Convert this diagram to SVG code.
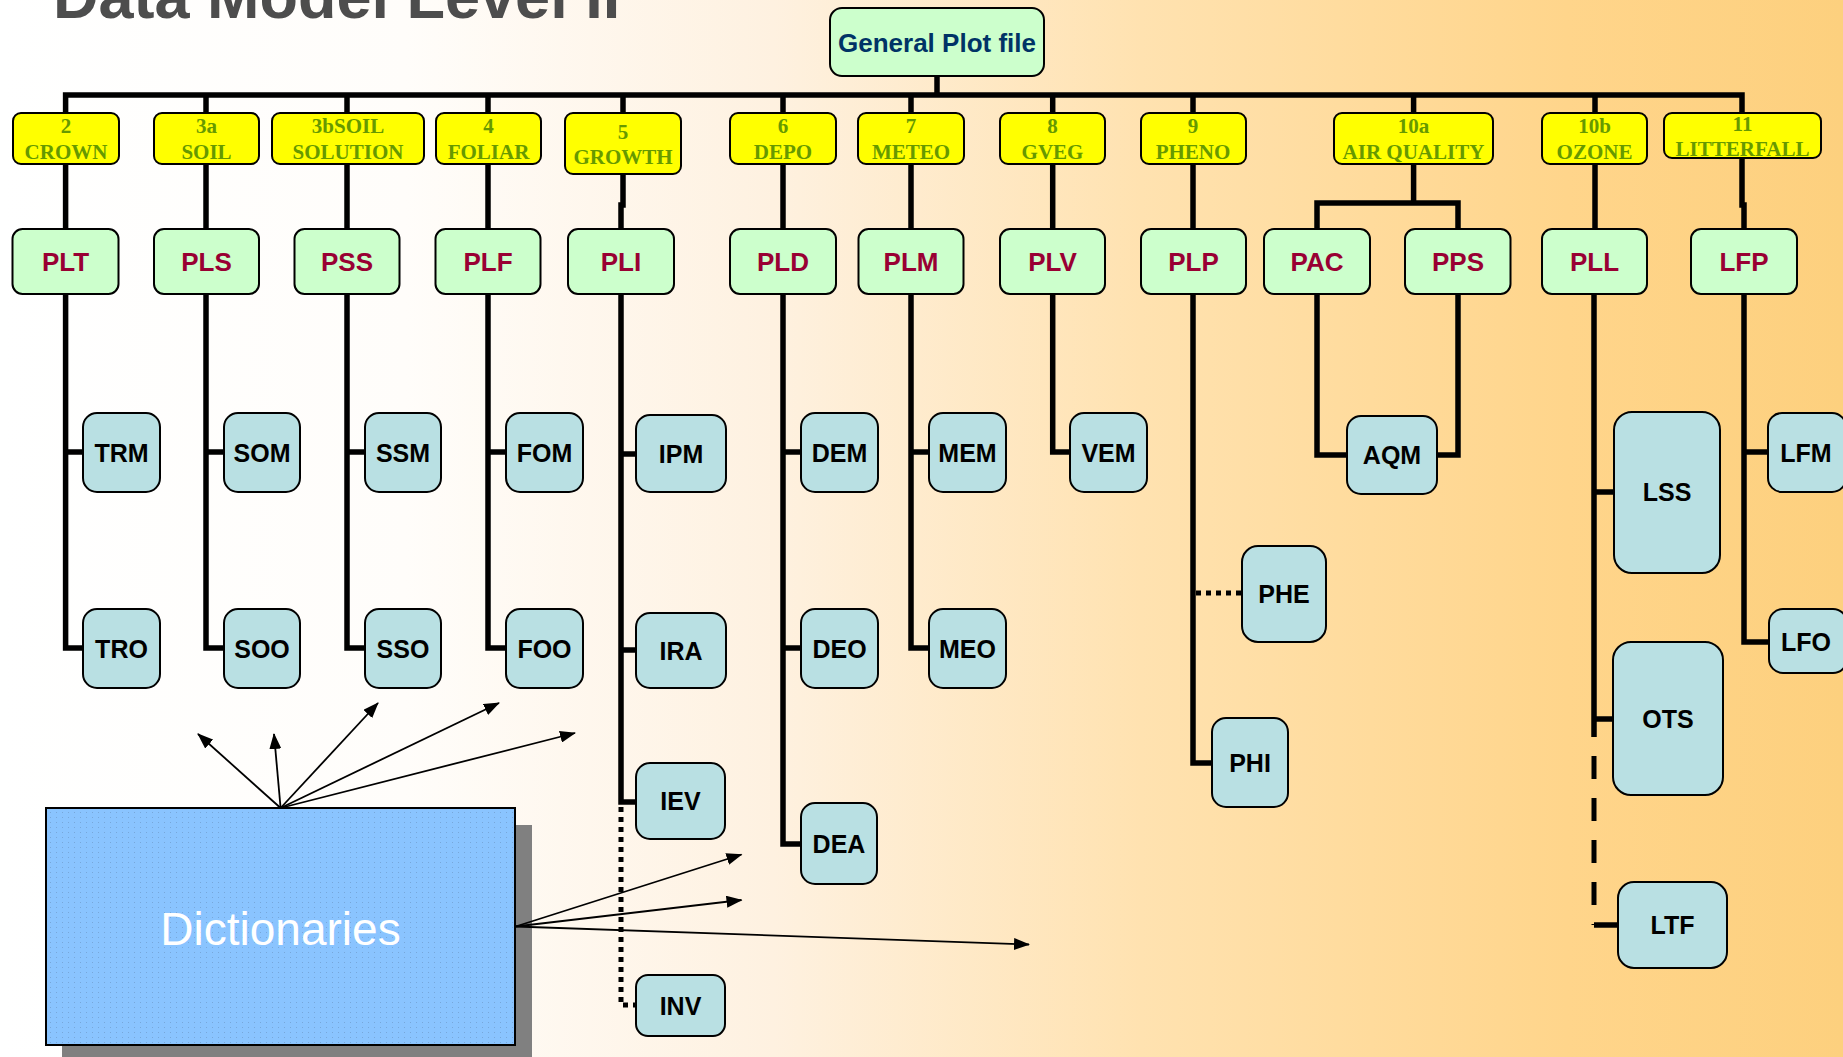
<svg xmlns="http://www.w3.org/2000/svg" width="1843" height="1057" viewBox="0 0 1843 1057">
<defs>
<linearGradient id="bg" x1="0" y1="0" x2="1" y2="0">
<stop offset="0" stop-color="#FFFFFF"/>
<stop offset="0.22" stop-color="#FFFDFA"/>
<stop offset="0.42" stop-color="#FEF1E0"/>
<stop offset="0.62" stop-color="#FFE2B0"/>
<stop offset="0.85" stop-color="#FFD58B"/>
<stop offset="1" stop-color="#FDD07E"/>
</linearGradient>
<pattern id="dots" width="6" height="5" patternUnits="userSpaceOnUse">
<rect x="2" y="2" width="1" height="1" fill="#6F9CCB" opacity="0.7"/>
</pattern>
<marker id="ah" markerWidth="16" markerHeight="12" refX="15" refY="6" orient="auto" markerUnits="userSpaceOnUse">
<path d="M0,0 L16,6 L0,12 Z" fill="#000"/>
</marker>
<style>
.y rect{fill:#FFFF00;stroke:#000;stroke-width:2}
.y text{font-family:"Liberation Serif","Times New Roman",serif;font-weight:bold;font-size:21px;fill:#669900;text-anchor:middle}
.g rect{fill:#CCFFCC;stroke:#000;stroke-width:2}
.g text{font-family:"Liberation Sans",Arial,sans-serif;font-weight:bold;font-size:26px;fill:#990033;text-anchor:middle}
.b rect{fill:#B9E0E3;stroke:#000;stroke-width:2}
.b text{font-family:"Liberation Sans",Arial,sans-serif;font-weight:bold;font-size:25px;fill:#000;text-anchor:middle}
.ln{stroke:#000;stroke-width:5.5;fill:none}
.dot{stroke:#000;stroke-width:5;fill:none;stroke-dasharray:5 5}
.dash{stroke:#000;stroke-width:5;fill:none;stroke-dasharray:23 19}
.ar{stroke:#000;stroke-width:1.8;fill:none;marker-end:url(#ah)}
</style>
</defs>
<rect x="0" y="0" width="1843" height="1057" fill="url(#bg)"/>
<text x="53" y="18" font-family="Liberation Sans, Arial, sans-serif" font-weight="bold" font-size="63" fill="#4D4D4D">Data Model Level II</text>

<g id="dictionaries">
<rect x="62" y="825" width="470" height="240" fill="#808080"/>
<rect x="46" y="808" width="469" height="237" fill="#8AC4FF" stroke="#000" stroke-width="2"/>
<rect x="47" y="809" width="467" height="235" fill="url(#dots)"/>
<text x="280.5" y="945" font-family="Liberation Sans, Arial, sans-serif" font-size="46" fill="#FFFFFF" text-anchor="middle">Dictionaries</text>
</g>

<g id="connectors">
<line class="ln" x1="937" y1="75" x2="937" y2="95"/>
<path class="ln" d="M65.6,113 V95 H1742 V113" stroke-width="6"/>
<line class="ln" x1="206" y1="95" x2="206" y2="113"/>
<line class="ln" x1="347" y1="95" x2="347" y2="113"/>
<line class="ln" x1="488" y1="95" x2="488" y2="113"/>
<line class="ln" x1="623" y1="95" x2="623" y2="113"/>
<line class="ln" x1="783" y1="95" x2="783" y2="113"/>
<line class="ln" x1="911" y1="95" x2="911" y2="113"/>
<line class="ln" x1="1052.7" y1="95" x2="1052.7" y2="113"/>
<line class="ln" x1="1193" y1="95" x2="1193" y2="113"/>
<line class="ln" x1="1413.6" y1="95" x2="1413.6" y2="113"/>
<line class="ln" x1="1595" y1="95" x2="1595" y2="113"/>
<line class="ln" x1="65.6" y1="164" x2="65.6" y2="229"/>
<line class="ln" x1="206" y1="164" x2="206" y2="229"/>
<line class="ln" x1="347" y1="164" x2="347" y2="229"/>
<line class="ln" x1="488" y1="164" x2="488" y2="229"/>
<path class="ln" d="M623,174 V205 H621 V229"/>
<line class="ln" x1="783" y1="164" x2="783" y2="229"/>
<line class="ln" x1="911" y1="164" x2="911" y2="229"/>
<line class="ln" x1="1052.7" y1="164" x2="1052.7" y2="229"/>
<line class="ln" x1="1193" y1="164" x2="1193" y2="229"/>
<path class="ln" d="M1413.6,164 V203 M1317,229 V203 H1458 V229"/>
<line class="ln" x1="1595" y1="164" x2="1595" y2="229"/>
<path class="ln" d="M1742,158 V205 H1744 V229"/>
<path class="ln" d="M65.6,294 V648 H83 M65.6,452 H83"/>
<path class="ln" d="M206,294 V648 H224 M206,452 H224"/>
<path class="ln" d="M347,294 V648 H365 M347,452 H365"/>
<path class="ln" d="M488,294 V648 H506 M488,452 H506"/>
<path class="ln" d="M621,294 V802 H636 M621,454 H636 M621,650 H636"/>
<path class="dot" d="M621,807 V1005 H636"/>
<path class="ln" d="M783,294 V844 H801 M783,452 H801 M783,648 H801"/>
<path class="ln" d="M911,294 V648 H929 M911,452 H929"/>
<path class="ln" d="M1052.7,294 V452 H1070"/>
<path class="ln" d="M1193,294 V763 H1212"/>
<path class="dot" d="M1196,593 H1242" stroke-dasharray="6 5"/>
<path class="ln" d="M1317,294 V455 H1347 M1458,294 V455 H1437"/>
<path class="ln" d="M1594,294 V737 M1594,492 H1614 M1594,719 H1613"/>
<path class="dash" d="M1594,756 V925"/>
<path class="ln" d="M1594,925 H1618"/>
<path class="ln" d="M1744,294 V642 H1769 M1744,452 H1768"/>
<line class="ar" x1="280.6" y1="808" x2="198" y2="734"/>
<line class="ar" x1="280.6" y1="808" x2="274" y2="734"/>
<line class="ar" x1="280.6" y1="808" x2="378" y2="703"/>
<line class="ar" x1="280.6" y1="808" x2="499" y2="703"/>
<line class="ar" x1="280.6" y1="808" x2="575" y2="733"/>
<line class="ar" x1="515.6" y1="926.5" x2="741.5" y2="854.5"/>
<line class="ar" x1="515.6" y1="926.5" x2="741.5" y2="900"/>
<line class="ar" x1="515.6" y1="926.5" x2="1029" y2="944.5"/>
</g>

<g id="gpf" class="g"><rect x="830" y="8" width="214" height="68" rx="12"/><text x="937" y="51.5" style="fill:#003366">General Plot file</text></g>

<g id="y2" class="y"><rect x="13" y="113" width="106" height="51" rx="8"/><text x="66" y="133">2</text><text x="66" y="159">CROWN</text></g>
<g id="y3a" class="y"><rect x="154" y="113" width="105" height="51" rx="8"/><text x="206.5" y="133">3a</text><text x="206.5" y="159">SOIL</text></g>
<g id="y3b" class="y"><rect x="272" y="113" width="152" height="51" rx="8"/><text x="348" y="133">3bSOIL</text><text x="348" y="159">SOLUTION</text></g>
<g id="y4" class="y"><rect x="436" y="113" width="105" height="51" rx="8"/><text x="488.5" y="133">4</text><text x="488.5" y="159">FOLIAR</text></g>
<g id="y5" class="y"><rect x="565" y="113" width="116" height="61" rx="8"/><text x="623" y="139">5</text><text x="623" y="164">GROWTH</text></g>
<g id="y6" class="y"><rect x="730" y="113" width="106" height="51" rx="8"/><text x="783" y="133">6</text><text x="783" y="159">DEPO</text></g>
<g id="y7" class="y"><rect x="858" y="113" width="106" height="51" rx="8"/><text x="911" y="133">7</text><text x="911" y="159">METEO</text></g>
<g id="y8" class="y"><rect x="1000" y="113" width="105" height="51" rx="8"/><text x="1052.5" y="133">8</text><text x="1052.5" y="159">GVEG</text></g>
<g id="y9" class="y"><rect x="1141" y="113" width="105" height="51" rx="8"/><text x="1193" y="133">9</text><text x="1193" y="159">PHENO</text></g>
<g id="y10a" class="y"><rect x="1334" y="113" width="159" height="51" rx="8"/><text x="1413.5" y="133">10a</text><text x="1413.5" y="159">AIR QUALITY</text></g>
<g id="y10b" class="y"><rect x="1542" y="113" width="105" height="51" rx="8"/><text x="1594.5" y="133">10b</text><text x="1594.5" y="159">OZONE</text></g>
<g id="y11" class="y"><rect x="1664" y="113" width="157" height="45" rx="8"/><text x="1742.5" y="131">11</text><text x="1742.5" y="156">LITTERFALL</text></g>

<g id="PLT" class="g"><rect x="12.5" y="229" width="106" height="65" rx="10"/><text x="65.5" y="271">PLT</text></g>
<g id="PLS" class="g"><rect x="154" y="229" width="105" height="65" rx="10"/><text x="206.5" y="271">PLS</text></g>
<g id="PSS" class="g"><rect x="294.5" y="229" width="105" height="65" rx="10"/><text x="347" y="271">PSS</text></g>
<g id="PLF" class="g"><rect x="435.5" y="229" width="105" height="65" rx="10"/><text x="488" y="271">PLF</text></g>
<g id="PLI" class="g"><rect x="568" y="229" width="106" height="65" rx="10"/><text x="621" y="271">PLI</text></g>
<g id="PLD" class="g"><rect x="730" y="229" width="106" height="65" rx="10"/><text x="783" y="271">PLD</text></g>
<g id="PLM" class="g"><rect x="858.5" y="229" width="105" height="65" rx="10"/><text x="911" y="271">PLM</text></g>
<g id="PLV" class="g"><rect x="1000" y="229" width="105" height="65" rx="10"/><text x="1052.5" y="271">PLV</text></g>
<g id="PLP" class="g"><rect x="1141" y="229" width="105" height="65" rx="10"/><text x="1193.5" y="271">PLP</text></g>
<g id="PAC" class="g"><rect x="1264" y="229" width="106" height="65" rx="10"/><text x="1317" y="271">PAC</text></g>
<g id="PPS" class="g"><rect x="1405" y="229" width="105.5" height="65" rx="10"/><text x="1458" y="271">PPS</text></g>
<g id="PLL" class="g"><rect x="1542" y="229" width="105" height="65" rx="10"/><text x="1594.5" y="271">PLL</text></g>
<g id="LFP" class="g"><rect x="1691" y="229" width="106" height="65" rx="10"/><text x="1744" y="271">LFP</text></g>

<g id="TRM" class="b"><rect x="83" y="413" width="77" height="79" rx="14"/><text x="121.5" y="461.5">TRM</text></g>
<g id="TRO" class="b"><rect x="83" y="609" width="77" height="79" rx="14"/><text x="121.5" y="657.5">TRO</text></g>
<g id="SOM" class="b"><rect x="224" y="413" width="76" height="79" rx="14"/><text x="262" y="461.5">SOM</text></g>
<g id="SOO" class="b"><rect x="224" y="609" width="76" height="79" rx="14"/><text x="262" y="657.5">SOO</text></g>
<g id="SSM" class="b"><rect x="365" y="413" width="76" height="79" rx="14"/><text x="403" y="461.5">SSM</text></g>
<g id="SSO" class="b"><rect x="365" y="609" width="76" height="79" rx="14"/><text x="403" y="657.5">SSO</text></g>
<g id="FOM" class="b"><rect x="506" y="413" width="77" height="79" rx="14"/><text x="544.5" y="461.5">FOM</text></g>
<g id="FOO" class="b"><rect x="506" y="609" width="77" height="79" rx="14"/><text x="544.5" y="657.5">FOO</text></g>
<g id="IPM" class="b"><rect x="636" y="415" width="90" height="77" rx="14"/><text x="681" y="462.5">IPM</text></g>
<g id="IRA" class="b"><rect x="636" y="613" width="90" height="75" rx="14"/><text x="681" y="659.5">IRA</text></g>
<g id="IEV" class="b"><rect x="636" y="763" width="89" height="76" rx="14"/><text x="680.5" y="810">IEV</text></g>
<g id="INV" class="b"><rect x="636" y="975" width="89" height="61" rx="12"/><text x="680.5" y="1014.5">INV</text></g>
<g id="DEM" class="b"><rect x="801" y="413" width="77" height="79" rx="14"/><text x="839.5" y="461.5">DEM</text></g>
<g id="DEO" class="b"><rect x="801" y="609" width="77" height="79" rx="14"/><text x="839.5" y="657.5">DEO</text></g>
<g id="DEA" class="b"><rect x="801" y="803" width="76" height="81" rx="14"/><text x="839" y="852.5">DEA</text></g>
<g id="MEM" class="b"><rect x="929" y="413" width="77" height="79" rx="14"/><text x="967.5" y="461.5">MEM</text></g>
<g id="MEO" class="b"><rect x="929" y="609" width="77" height="79" rx="14"/><text x="967.5" y="657.5">MEO</text></g>
<g id="VEM" class="b"><rect x="1070" y="413" width="77" height="79" rx="14"/><text x="1108.5" y="461.5">VEM</text></g>
<g id="AQM" class="b"><rect x="1347" y="416" width="90" height="78" rx="14"/><text x="1392" y="464">AQM</text></g>
<g id="PHE" class="b"><rect x="1242" y="546" width="84" height="96" rx="16"/><text x="1284" y="602.5">PHE</text></g>
<g id="PHI" class="b"><rect x="1212" y="718" width="76" height="89" rx="14"/><text x="1250" y="772">PHI</text></g>
<g id="LSS" class="b"><rect x="1614" y="412" width="106" height="161" rx="18"/><text x="1667" y="501">LSS</text></g>
<g id="OTS" class="b"><rect x="1613" y="642" width="110" height="153" rx="18"/><text x="1668" y="728">OTS</text></g>
<g id="LTF" class="b"><rect x="1618" y="882" width="109" height="86" rx="16"/><text x="1672.5" y="934">LTF</text></g>
<g id="LFM" class="b"><rect x="1768" y="413" width="78" height="79" rx="14"/><text x="1806" y="461.5">LFM</text></g>
<g id="LFO" class="b"><rect x="1769" y="609" width="78" height="64" rx="14"/><text x="1806" y="650.5">LFO</text></g>
</svg>
